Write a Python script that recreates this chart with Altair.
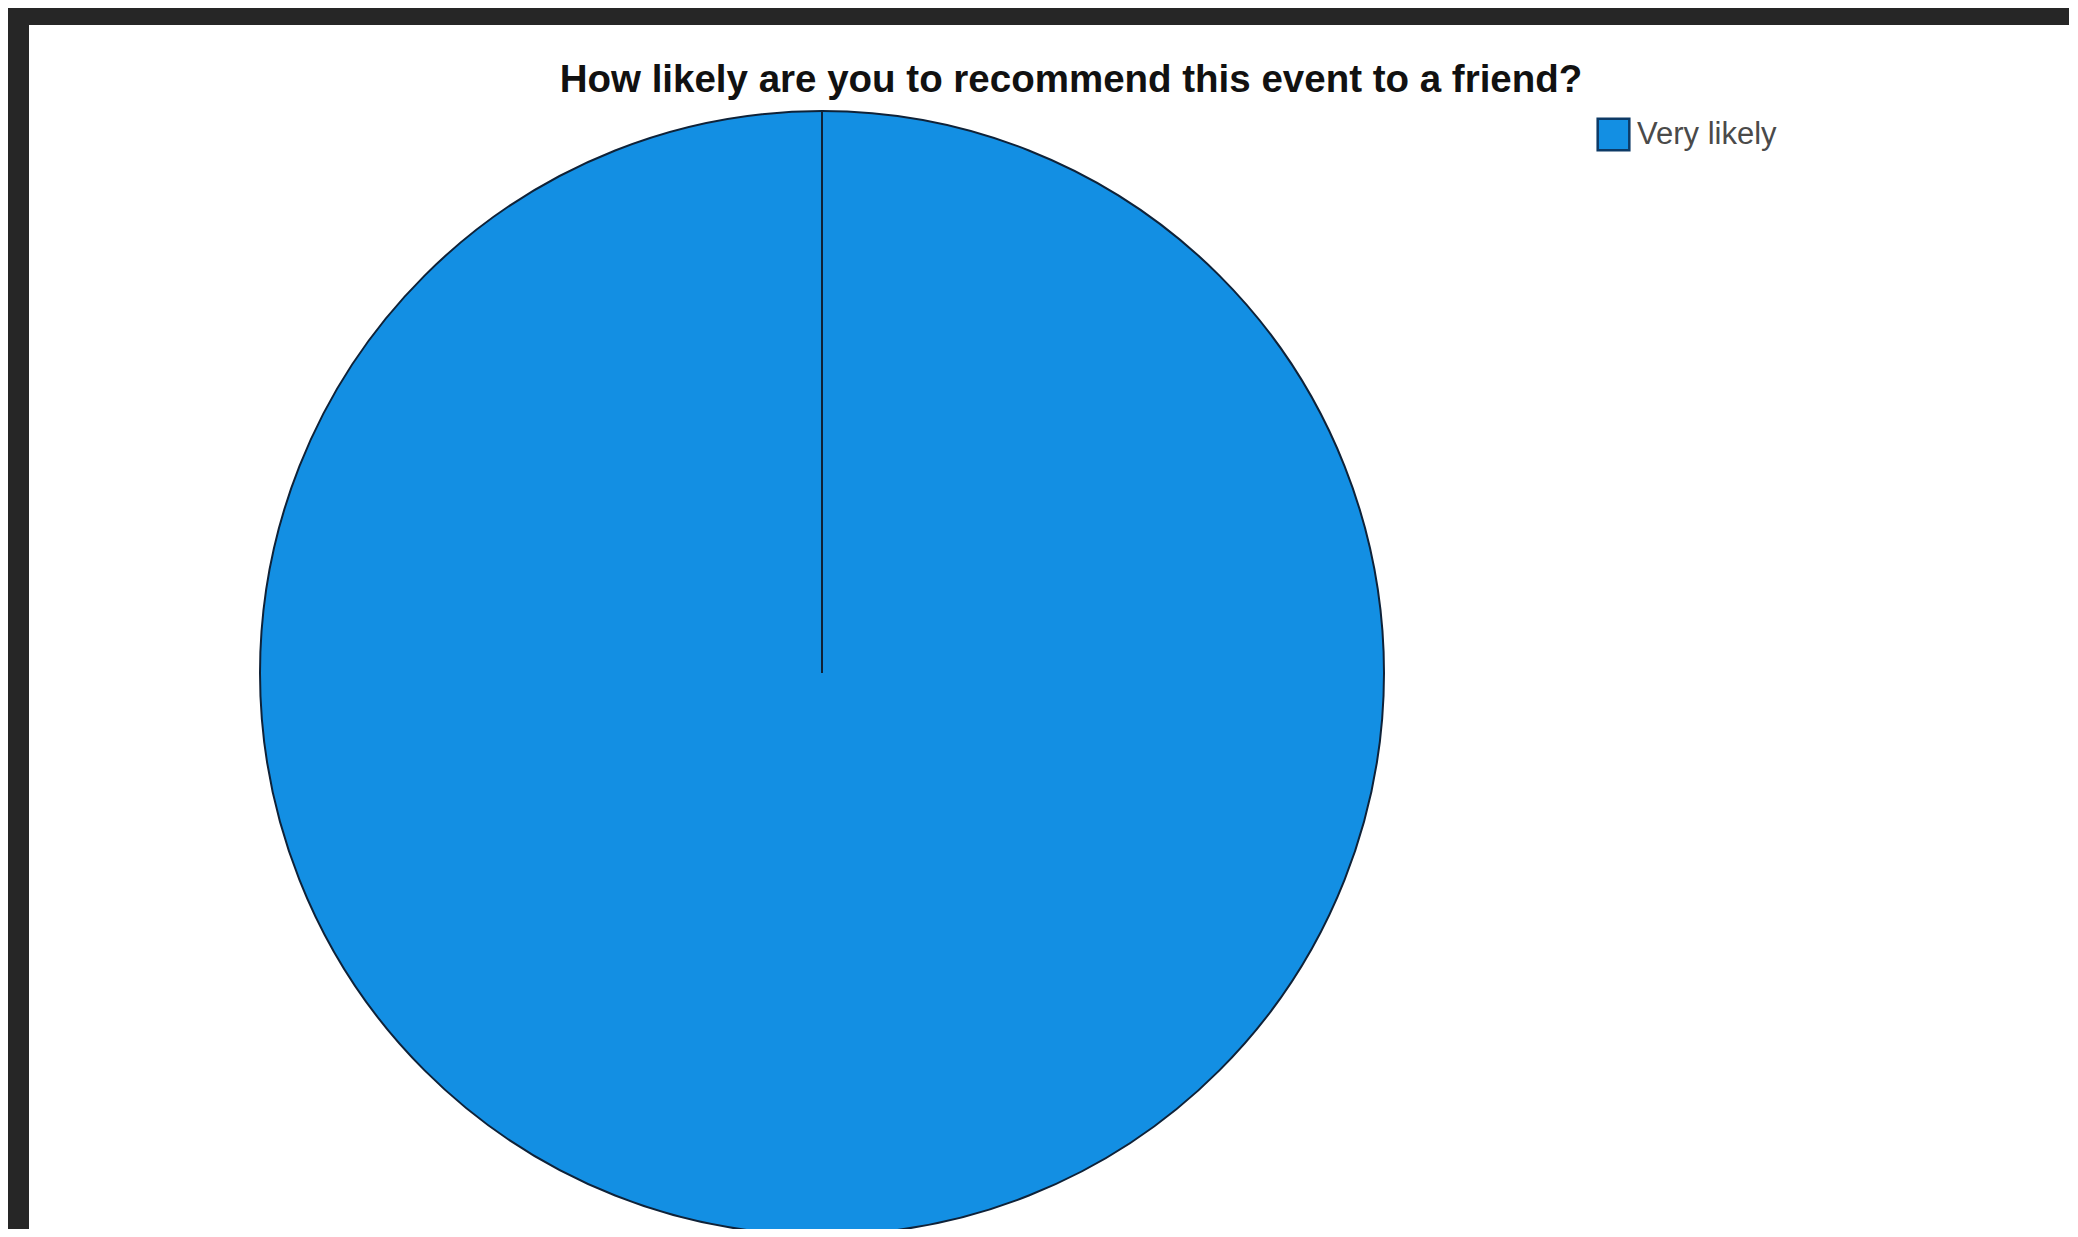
import altair as alt
import pandas as pd

TITLE = "How likely are you to recommend this event to a friend?"
categories = ["Very likely", "Likely"]
responses = [100, 0]
legend_items = ["Very likely"]

pie_df = pd.DataFrame({"answer": categories, "value": responses, "order": [1, 0]})
title_df = pd.DataFrame({"t": [TITLE]})

pie = alt.Chart(pie_df).mark_arc(
    outerRadius=562,
    stroke="#0f2238",
    strokeWidth=2,
    x=793,
    y=648,
).encode(
    theta=alt.Theta("value:Q", stack=True),
    order=alt.Order("order:Q"),
    fill=alt.Fill(
        "answer:N",
        scale=alt.Scale(domain=categories, range=["#138fe3", "#138fe3"]),
        legend=alt.Legend(
            title=None,
            values=legend_items,
            orient="none",
            legendX=1567,
            legendY=92,
            symbolType="square",
            symbolSize=1000,
            symbolStrokeColor="#0d3a66",
            symbolStrokeWidth=2.5,
            labelFont="Liberation Sans",
            labelFontSize=31,
            labelColor="#4a4a4a",
            labelOffset=6,
            padding=0,
        ),
    ),
)

title = alt.Chart(title_df).mark_text(
    font="Liberation Sans",
    fontSize=38.5,
    fontWeight="bold",
    color="#111111",
    align="center",
    baseline="middle",
).encode(
    text="t:N",
    x=alt.value(1042),
    y=alt.value(55),
)

chart = alt.layer(pie, title).properties(
    width=2040,
    height=1204,
    background="#262626",
    padding={"left": 21, "top": 17, "right": 0, "bottom": 0},
    autosize=alt.AutoSizeParams(type="none"),
).configure_view(fill="white", stroke=None)

chart.save("out.html", embed_options={"renderer": "svg", "actions": False})
